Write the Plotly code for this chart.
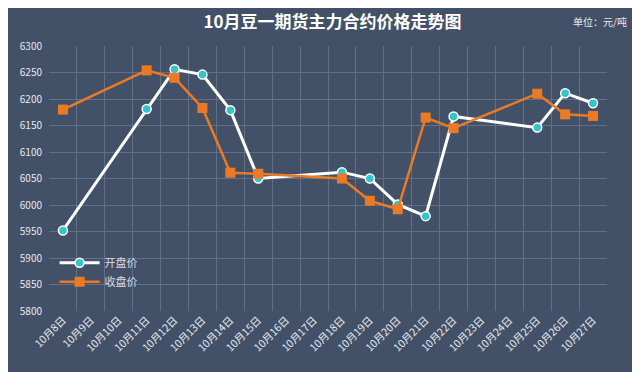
import plotly.graph_objects as go

dates = ["10月8日", "10月9日", "10月10日", "10月11日", "10月12日", "10月13日", "10月14日",
         "10月15日", "10月16日", "10月17日", "10月18日", "10月19日", "10月20日", "10月21日",
         "10月22日", "10月23日", "10月24日", "10月25日", "10月26日", "10月27日"]
open_price = [5952, None, None, 6181, 6256, 6246, 6179, 6050, None, None,
              6062, 6050, 6001, 5979, 6167, None, None, 6146, 6211, 6192]
close_price = [6180, None, None, 6254, 6240, 6183, 6061, 6059, None, None,
               6050, 6008, 5992, 6165, 6145, None, None, 6210, 6171, 6168]
y_ticks = list(range(5800, 6301, 50))

BG = "#425168"
GRID = "#617087"
FONT = "Noto Sans CJK SC"

fig = go.Figure()
fig.add_trace(go.Scatter(
    x=dates, y=open_price, name="开盘价", mode="lines+markers", connectgaps=True,
    line=dict(color="#ffffff", width=3),
    marker=dict(symbol="circle", size=9, color="#35c3cc", line=dict(color="#ffffff", width=1.5)),
))
fig.add_trace(go.Scatter(
    x=dates, y=close_price, name="收盘价", mode="lines+markers", connectgaps=True,
    line=dict(color="#ec7a25", width=2.5),
    marker=dict(symbol="square", size=10, color="#ec7a25"),
))

fig.update_layout(
    width=624, height=364,
    paper_bgcolor=BG, plot_bgcolor=BG,
    margin=dict(l=39, r=25, t=38, b=61),
    font=dict(family=FONT, color="#e6e9ee", size=10),
    title=dict(text="<b>10月豆一期货主力合约价格走势图</b>", x=0.52, xanchor="center",
               y=0.9615, yanchor="middle", font=dict(size=17, color="#ffffff", family=FONT)),
    showlegend=True,
    legend=dict(x=0.01, y=0.237, xanchor="left", yanchor="top", bgcolor="rgba(0,0,0,0)",
                font=dict(size=11, color="#d8dce3"), itemwidth=40, tracegroupgap=0),
    annotations=[dict(text="单位：元/吨", xref="paper", yref="paper", x=1.04, y=1.094,
                      xanchor="right", yanchor="middle", showarrow=False,
                      font=dict(size=10, color="#e6e9ee"))],
)
fig.update_xaxes(
    type="category", categoryorder="array", categoryarray=dates,
    range=[-0.5, len(dates) - 0.5], tickson="boundaries",
    showgrid=True, gridcolor=GRID, gridwidth=1,
    showline=False, zeroline=False, ticks="",
    tickangle=-45, tickfont=dict(size=10.5, color="#e6e9ee"),
)
fig.update_yaxes(
    range=[5800, 6300], tickvals=y_ticks, showgrid=True, gridcolor=GRID, gridwidth=1,
    zeroline=False, showline=False, ticks="", ticklabelstandoff=6,
    tickfont=dict(size=10, color="#e6e9ee"),
)

fig.write_html("out.html")
